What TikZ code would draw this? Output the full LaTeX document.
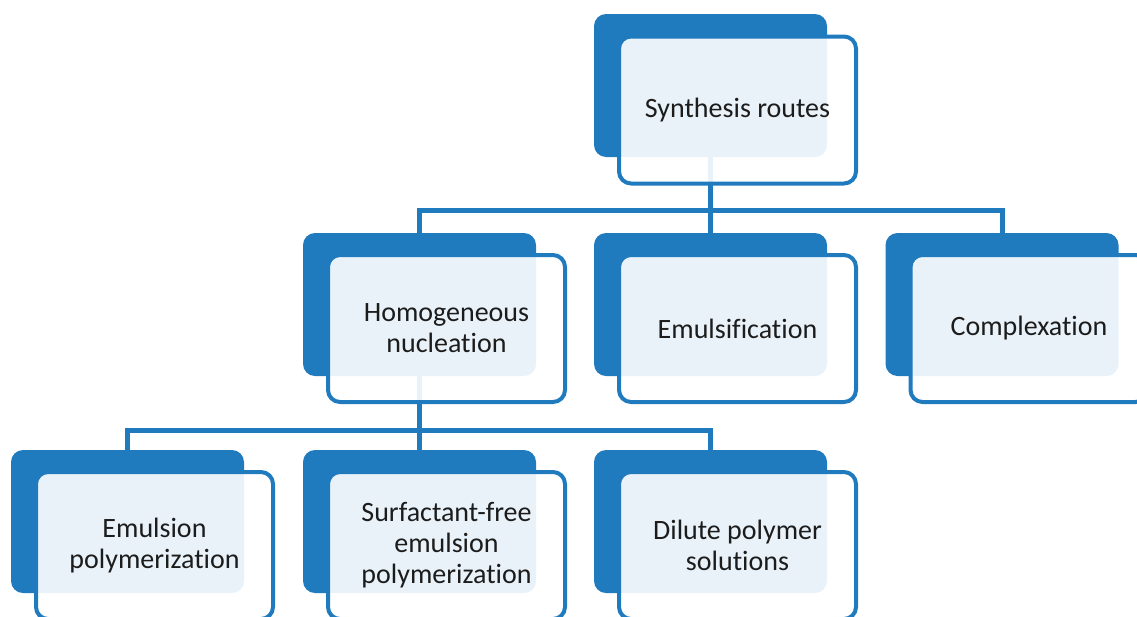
\documentclass[tikz,border=0pt]{standalone}
\usepackage{fontspec}
\setmainfont[Ligatures=NoCommon]{Carlito}
\definecolor{boxblue}{RGB}{31,123,190}
\definecolor{boxtext}{RGB}{28,28,28}
\tikzset{
  backbox/.style={rectangle, rounded corners=12pt, fill=boxblue, inner sep=0pt,
    minimum width=233pt, minimum height=143pt},
  frontbox/.style={rectangle, rounded corners=12pt, draw=boxblue, line width=4pt,
    fill=white, fill opacity=0.9, text opacity=1, text=boxtext, align=center,
    minimum width=237pt, minimum height=147pt, font=\fontsize{28}{31}\selectfont},
  conn/.style={draw=boxblue, line width=5pt}
}
\begin{document}
\begin{tikzpicture}[x=1pt,y=-1pt]
  \clip (0,0) rectangle (1137,616);
  \useasboundingbox (0,0) rectangle (1137,616);

  % Back boxes
  \node[backbox] (synB) at (710.5,85.5) {};
  \node[backbox] (homB) at (419.5,304.5) {};
  \node[backbox] (emuB) at (710.5,304.5) {};
  \node[backbox] (cpxB) at (1002,304.5) {};
  \node[backbox] (polB) at (127.5,521.5) {};
  \node[backbox] (sffB) at (419.5,521.5) {};
  \node[backbox] (dilB) at (710.5,521.5) {};

  % Connectors
  \coordinate (bus1) at (710.5,210);
  \coordinate (bus2) at (419.5,430);
  \draw[conn] (synB.south) -- (bus1);
  \draw[conn] (bus1) -| (homB.north);
  \draw[conn] (bus1) -- (emuB.north);
  \draw[conn] (bus1) -| (cpxB.north);
  \draw[conn] (homB.south) -- (bus2);
  \draw[conn] (bus2) -| (polB.north);
  \draw[conn] (bus2) -- (sffB.north);
  \draw[conn] (bus2) -| (dilB.north);

  % Front boxes with labels
  \node[frontbox] (syn) at (737.5,110) {Synthesis routes};
  \node[frontbox] (hom) at (446.5,328.5) {Homogeneous\\nucleation};
  \node[frontbox] (emu) at (737.5,328.5) {Emulsification};
  \node[frontbox] (cpx) at (1029,328.5) {Complexation};
  \node[frontbox] (pol) at (154.5,545.5) {Emulsion\\polymerization};
  \node[frontbox] (sff) at (446.5,545.5) {Surfactant-free\\emulsion\\polymerization};
  \node[frontbox] (dil) at (737.5,545.5) {Dilute polymer\\solutions};
\end{tikzpicture}
\end{document}
